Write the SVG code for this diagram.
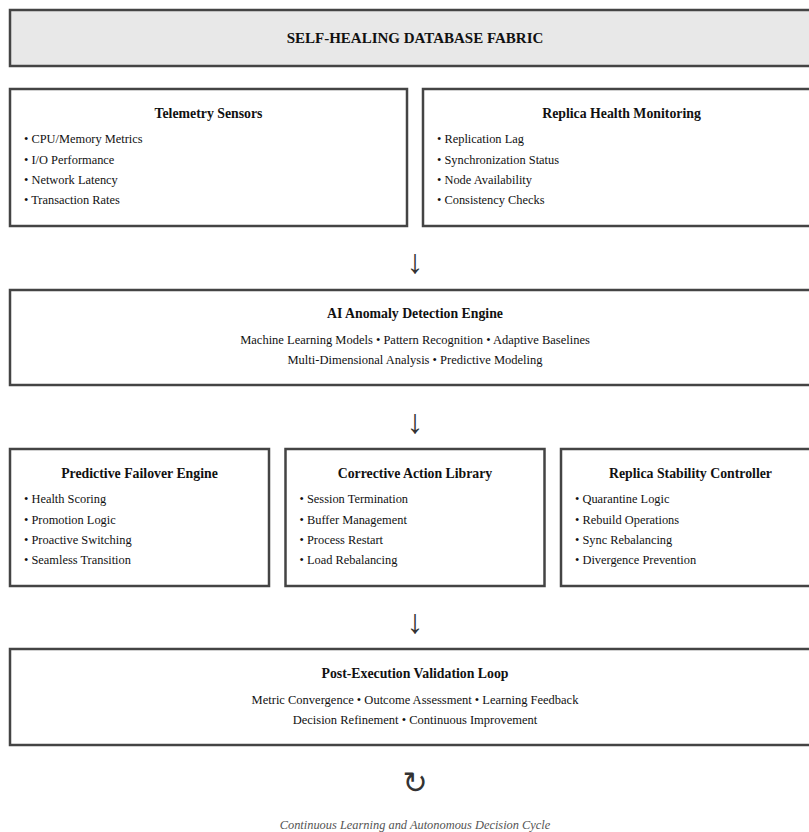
<svg xmlns="http://www.w3.org/2000/svg" width="809" height="832" viewBox="0 0 809 832">
<style>
.box{fill:#fff;stroke:#444;stroke-width:2.5}
.hdr{fill:#e8e8e8;stroke:#444;stroke-width:2.5}
text{font-family:"Liberation Serif","Times New Roman",serif;fill:#111}
.t{font-size:13.8px;font-weight:bold;text-anchor:middle}
.main{font-size:15px;font-weight:bold;text-anchor:middle}
.b{font-size:12.4px}
.c{font-size:12.5px;text-anchor:middle}
.arr{font-size:34px;text-anchor:middle;fill:#333}
.cyc{font-family:"DejaVu Sans",sans-serif;font-size:30px;text-anchor:middle;fill:#333}
.cap{font-size:12.4px;font-style:italic;text-anchor:middle;fill:#555}
</style>
<rect width="809" height="832" fill="#fff"/>
<g id="header">
<rect class="hdr" x="10" y="10" width="810" height="56"/>
<text class="main" x="415" y="43">SELF-HEALING DATABASE FABRIC</text>
</g>
<g id="telemetry">
<rect class="box" x="10" y="89" width="397" height="137"/>
<text class="t" x="208.5" y="118">Telemetry Sensors</text>
<text class="b" x="24" y="143">• CPU/Memory Metrics</text>
<text class="b" x="24" y="164">• I/O Performance</text>
<text class="b" x="24" y="184">• Network Latency</text>
<text class="b" x="24" y="204">• Transaction Rates</text>
</g>
<g id="replica-health">
<rect class="box" x="423" y="89" width="397" height="137"/>
<text class="t" x="621.5" y="118">Replica Health Monitoring</text>
<text class="b" x="437" y="143">• Replication Lag</text>
<text class="b" x="437" y="164">• Synchronization Status</text>
<text class="b" x="437" y="184">• Node Availability</text>
<text class="b" x="437" y="204">• Consistency Checks</text>
</g>
<g id="ai-engine">
<rect class="box" x="10" y="290" width="810" height="95"/>
<text class="t" x="415" y="318">AI Anomaly Detection Engine</text>
<text class="c" x="415" y="344">Machine Learning Models • Pattern Recognition • Adaptive Baselines</text>
<text class="c" x="415" y="364">Multi-Dimensional Analysis • Predictive Modeling</text>
</g>
<g id="failover">
<rect class="box" x="10" y="449" width="259" height="137"/>
<text class="t" x="139.5" y="478">Predictive Failover Engine</text>
<text class="b" x="24" y="503">• Health Scoring</text>
<text class="b" x="24" y="524">• Promotion Logic</text>
<text class="b" x="24" y="544">• Proactive Switching</text>
<text class="b" x="24" y="564">• Seamless Transition</text>
</g>
<g id="corrective">
<rect class="box" x="285.5" y="449" width="259" height="137"/>
<text class="t" x="415" y="478">Corrective Action Library</text>
<text class="b" x="299.5" y="503">• Session Termination</text>
<text class="b" x="299.5" y="524">• Buffer Management</text>
<text class="b" x="299.5" y="544">• Process Restart</text>
<text class="b" x="299.5" y="564">• Load Rebalancing</text>
</g>
<g id="stability">
<rect class="box" x="561" y="449" width="259" height="137"/>
<text class="t" x="690.5" y="478">Replica Stability Controller</text>
<text class="b" x="575" y="503">• Quarantine Logic</text>
<text class="b" x="575" y="524">• Rebuild Operations</text>
<text class="b" x="575" y="544">• Sync Rebalancing</text>
<text class="b" x="575" y="564">• Divergence Prevention</text>
</g>
<g id="validation">
<rect class="box" x="10" y="649" width="810" height="96"/>
<text class="t" x="415" y="678">Post-Execution Validation Loop</text>
<text class="c" x="415" y="704">Metric Convergence • Outcome Assessment • Learning Feedback</text>
<text class="c" x="415" y="724">Decision Refinement • Continuous Improvement</text>
</g>
<g id="connectors">
<text class="arr" x="415" y="273">↓</text>
<text class="arr" x="415" y="433">↓</text>
<text class="arr" x="415" y="633">↓</text>
<text class="cyc" x="415" y="793">↻</text>
</g>
<g id="caption">
<text class="cap" x="415" y="829">Continuous Learning and Autonomous Decision Cycle</text>
</g>
</svg>
